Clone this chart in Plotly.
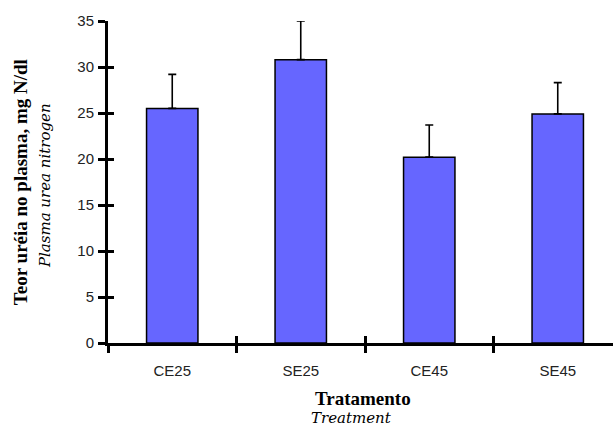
import plotly.graph_objects as go

# Plasma urea nitrogen by treatment (mean + SD)
treatments = ["CE25", "SE25", "CE45", "SE45"]
means = [25.5, 30.8, 20.2, 24.9]
sd = [3.7, 4.2, 3.5, 3.4]
y_ticks = [0, 5, 10, 15, 20, 25, 30, 35]

positions = list(range(len(treatments)))
boundaries = [p - 0.5 for p in positions]

x_range = [-0.5, 3.43]
y_range = [0, 35]

fig = go.Figure()
fig.add_trace(go.Bar(
    x=positions, y=means, width=0.4,
    marker=dict(color="#6666FF", line=dict(color="black", width=1.5)),
    error_y=dict(type="data", array=sd, arrayminus=[0] * len(sd), symmetric=False,
                 color="black", thickness=1.6, width=4),
    cliponaxis=False, showlegend=False,
))

tick_font = dict(family="Liberation Sans, Arial", size=15, color="#222")

fig.update_layout(
    width=613, height=427,
    margin=dict(l=108, r=0, t=21, b=84),
    paper_bgcolor="white", plot_bgcolor="white",
    xaxis=dict(
        range=x_range, tickmode="array", tickvals=positions, ticktext=treatments,
        ticks="", showgrid=False, zeroline=False,
        showline=True, linecolor="black", linewidth=3,
        tickfont=tick_font, ticklabelstandoff=12,
        minor=dict(tickmode="array", tickvals=boundaries, ticks="outside",
                   ticklen=7, tickwidth=3, tickcolor="black"),
    ),
    xaxis2=dict(
        overlaying="x", range=x_range, tickmode="array", tickvals=boundaries,
        ticks="inside", ticklen=7, tickwidth=3, tickcolor="black",
        showticklabels=False, showgrid=False, zeroline=False, showline=False,
        side="bottom",
    ),
    yaxis=dict(
        range=y_range, tickmode="array", tickvals=y_ticks,
        ticks="outside", ticklen=7, tickwidth=3, tickcolor="black",
        showgrid=False, zeroline=False,
        showline=True, linecolor="black", linewidth=3,
        tickfont=tick_font, ticklabelstandoff=1,
    ),
    yaxis2=dict(
        overlaying="y", range=y_range, tickmode="array", tickvals=y_ticks,
        ticks="inside", ticklen=6, tickwidth=3, tickcolor="black",
        showticklabels=False, showgrid=False, zeroline=False, showline=False,
        side="left",
    ),
)

# invisible trace so the overlay axes are drawn
fig.add_trace(go.Scatter(x=[0], y=[0], xaxis="x2", yaxis="y2", mode="markers",
                         marker=dict(opacity=0), showlegend=False, hoverinfo="skip"))

bold_font = dict(family="Liberation Serif, Times New Roman, serif", size=19, color="black")
italic_font = dict(family="DejaVu Serif, serif", size=15, color="black", style="italic")
fig.add_annotation(text="<b>Teor uréia no plasma, mg N/dl</b>", xref="paper", yref="paper",
                   x=-0.174, y=0.5, xanchor="center", yanchor="middle",
                   textangle=-90, showarrow=False, font=bold_font)
fig.add_annotation(text="Plasma urea nitrogen", xref="paper", yref="paper",
                   x=-0.125, y=0.49, xanchor="center", yanchor="middle",
                   textangle=-90, showarrow=False, font=italic_font)
fig.add_annotation(text="<b>Tratamento</b>", xref="paper", yref="paper",
                   x=0.505, y=-0.171, xanchor="center", yanchor="middle",
                   showarrow=False, font=bold_font)
fig.add_annotation(text="Treatment", xref="paper", yref="paper",
                   x=0.483, y=-0.233, xanchor="center", yanchor="middle",
                   showarrow=False, font=italic_font)

fig.write_html("out.html")
